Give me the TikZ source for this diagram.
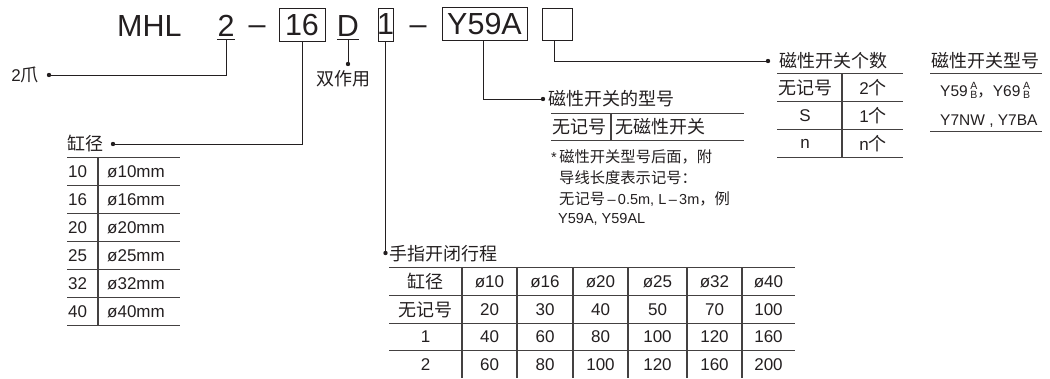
\documentclass[tikz,border=0pt]{standalone}
\usepackage{fontspec}
\setmainfont{Liberation Sans}
\newfontfamily\cjk{Noto Sans CJK SC}
\newcommand\zh[1]{{\cjk #1}}
\newcommand\stackAB{{\fontsize{10.5}{10}\selectfont\raisebox{-2.5pt}{\shortstack{A\\[-1.5pt]B}}}}
\definecolor{ink}{HTML}{231F20}
\begin{document}
\begin{tikzpicture}[x=1pt,y=-1pt,
  code/.style={font=\fontsize{30.5}{36}\selectfont, inner sep=0, text=ink},
  codebox/.style={draw=ink, line width=0.9pt, font=\fontsize{30.5}{36}\selectfont, inner sep=0, text=ink},
  lbl/.style={inner sep=0, text=ink, font=\fontsize{18}{21}\selectfont\cjk},
  num/.style={inner sep=0, text=ink, font=\fontsize{17}{20}\selectfont},
  note/.style={inner sep=0, text=ink, font=\fontsize{14.5}{17}\selectfont},
  conn/.style={draw=ink, line width=0.9pt},
  rulel/.style={draw=ink!85, line width=1.1pt},
  dot/.style={fill=ink}]

\useasboundingbox (0,0) rectangle (1050,378);

% ---- model code line ----
\node[code, anchor=base west] (mhl) at (117,36) {MHL};
\node[code, anchor=base] (two) at (226,36) {2};
\node[code, anchor=base] (dashA) at (257,36) {\raisebox{2pt}{–}};
\node[codebox, minimum width=46, minimum height=33] (b16) at (302,24.5) {16};
\node[code, anchor=base] (D) at (348,36) {D};
\node[codebox, minimum width=15, minimum height=33] (b1) at (385.5,24.5) {\makebox[0pt]{1}};
\node[code, anchor=base] (dashB) at (418,36) {\raisebox{2pt}{–}};
\node[codebox, minimum width=85, minimum height=33] (y59) at (484.5,23.5) {Y59A};
\node[codebox, minimum width=30, minimum height=32] (nb) at (557,24) {};

\draw[conn] (217,39.5) -- (235,39.5);
\draw[conn] (337,39.5) -- (359,39.5);

\coordinate (u2) at (226.5,39.5);
\coordinate (uD) at (348,39.5);
\coordinate (p2) at (49,75);
\coordinate (pD) at (348,64);
\coordinate (pBore) at (113,144);
\coordinate (pStroke) at (385.5,253);
\coordinate (pSw) at (543,99);
\coordinate (pNum) at (768,61);

\draw[conn] (u2) |- (p2);
\draw[conn] (uD) -- (pD);
\draw[conn] (b16.south) |- (pBore);
\draw[conn] (b1.south) -- (pStroke);
\draw[conn] ([xshift=-1.5pt]y59.south) |- (pSw);
\draw[conn] ([xshift=-3pt]nb.south) |- (pNum);
\foreach \p in {p2,pD,pBore,pStroke,pSw,pNum} \fill[dot] (\p) circle (2.2);

% ---- labels ----
\node[anchor=east, inner sep=0, text=ink] (t2) at (39,75) {\fontsize{17}{19}\selectfont 2\zh{\fontsize{18}{21}\selectfont 爪}};
\node[lbl] (tD) at (343,79) {双作用};
\node[lbl, anchor=west] (tBore) at (67,144) {缸径};
\node[lbl, anchor=west] (tStroke) at (389,254) {手指开闭行程};
\node[lbl, anchor=west] (tSw) at (548,99) {磁性开关的型号};
\node[lbl, anchor=west] (tNum) at (779,61) {磁性开关个数};
\node[lbl, anchor=west] (tModel) at (931,61) {磁性开关型号};

% ---- bore table ----
\foreach \y in {157.5,185.5,213.5,241.5,269.5,297.5,325.5} \draw[rulel] (67,\y) -- (180,\y);
\draw[rulel] (98,157.5) -- (98,325.5);
\foreach \v [count=\i from 0] in {10,16,20,25,32,40} {
  \node[num, anchor=west] (bl\i) at (68,{171.5+28*\i}) {\v};
  \node[num, anchor=west] (br\i) at (107,{171.5+28*\i}) {ø\v mm};
}

% ---- switch model table ----
\draw[rulel] (551,113.3) -- (744,113.3);
\draw[rulel] (551,140.7) -- (744,140.7);
\draw[rulel] (611,113.3) -- (611,140.7);
\node[lbl, anchor=west] (sw1) at (552,127) {无记号};
\node[lbl, anchor=west] (sw2) at (615,127) {无磁性开关};
\node[note, anchor=west] (n1) at (551,157) {*\,\zh{\fontsize{15.3}{17}\selectfont 磁性开关型号后面，附}};
\node[note, anchor=west] (n2) at (559,178) {\zh{\fontsize{15.3}{17}\selectfont 导线长度表示记号：}};
\node[note, anchor=west] (n3) at (559,199) {\zh{\fontsize{15.3}{17}\selectfont 无记号}\,–\,0.5m, L\,–\,3m\zh{\fontsize{15.3}{17}\selectfont ，例}};
\node[note, anchor=west] (n4) at (558,219) {Y59A, Y59AL};

% ---- switch count table ----
\foreach \y in {73.5,101.5,129.5,157.5} \draw[rulel] (777,\y) -- (903,\y);
\draw[rulel] (842,73.5) -- (842,157.5);
\node[lbl] (c1a) at (805,87.5) {无记号};
\node[num] (c1b) at (873,87.5) {2\zh{\fontsize{18}{21}\selectfont 个}};
\node[num] (c2a) at (805,115.5) {S};
\node[num] (c2b) at (873,115.5) {1\zh{\fontsize{18}{21}\selectfont 个}};
\node[num] (c3a) at (805,143.5) {n};
\node[num] (c3b) at (873,143.5) {n\zh{\fontsize{18}{21}\selectfont 个}};

% ---- switch type list ----
\draw[rulel] (930,73.5) -- (1042,73.5);
\draw[rulel] (930,131.7) -- (1042,131.7);
\node[num, anchor=base west, font=\fontsize{15.5}{18}\selectfont] (m1) at (940,96) {Y59\,\stackAB\zh{，}Y69\,\stackAB};
\node[num, anchor=base west, font=\fontsize{15.5}{18}\selectfont] (m2) at (940,125.5) {Y7NW , Y7BA};

% ---- stroke table ----
\foreach \y in {267.5,295.5,323.3,350.7} \draw[rulel] (389,\y) -- (795,\y);
\foreach \x in {462,517,573,628,687,742} \draw[rulel] (\x,267.5) -- (\x,378);
\node[lbl] (s0) at (425.5,281.5) {缸径};
\node[lbl] (s1) at (425.5,309.4) {无记号};
\node[num] (s2) at (425.5,337) {1};
\node[num] (s3) at (425.5,364.5) {2};
\foreach \x/\v [count=\c] in {489.5/ø10,545/ø16,600.5/ø20,657.5/ø25,714.5/ø32,768.5/ø40}
  \node[num] (h\c) at (\x,281.5) {\v};
\foreach \x/\v [count=\c] in {489.5/20,545/30,600.5/40,657.5/50,714.5/70,768.5/100}
  \node[num] (r0\c) at (\x,309.4) {\v};
\foreach \x/\v [count=\c] in {489.5/40,545/60,600.5/80,657.5/100,714.5/120,768.5/160}
  \node[num] (r1\c) at (\x,337) {\v};
\foreach \x/\v [count=\c] in {489.5/60,545/80,600.5/100,657.5/120,714.5/160,768.5/200}
  \node[num] (r2\c) at (\x,364.5) {\v};

\end{tikzpicture}
\end{document}
